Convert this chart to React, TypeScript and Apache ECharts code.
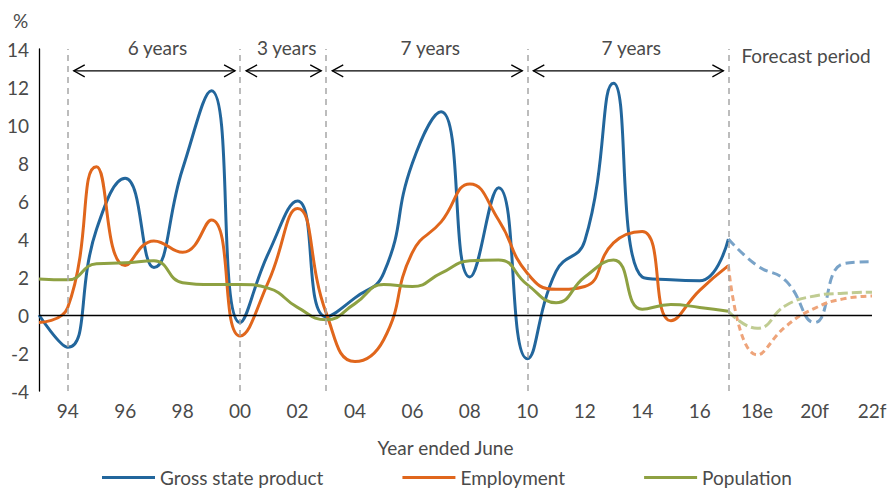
import React, { useEffect, useRef } from "react";
import * as echarts from "echarts";

// ---- data ----
const YEARS = [1993, 1994, 1995, 1996, 1997, 1998, 1999, 2000, 2001, 2002, 2003, 2004, 2005, 2006, 2007, 2008, 2009, 2010, 2011, 2012, 2013, 2014, 2015, 2016, 2017, 2018, 2019, 2020, 2021, 2022];
const ACTUAL_YEARS = [1993, 1994, 1995, 1996, 1997, 1998, 1999, 2000, 2001, 2002, 2003, 2004, 2005, 2006, 2007, 2008, 2009, 2010, 2011, 2012, 2013, 2014, 2015, 2016, 2017];
const FORECAST_YEARS = [2017, 2018, 2019, 2020, 2021, 2022];

const GSP_ACTUAL = [0.0, -1.7, 4.5, 7.2, 2.5, 7.7, 11.8, -0.4, 3.3, 6.0, -0.1, 0.9, 2.2, 8.0, 10.7, 2.0, 6.7, -2.3, 2.3, 3.9, 12.2, 2.0, 1.85, 1.8, 4.0];
const GSP_FORECAST = [4.0, 2.6, 1.8, -0.4, 2.7, 2.8];

const EMP_ACTUAL = [-0.4, 0.4, 7.8, 2.6, 3.9, 3.3, 5.0, -1.1, 1.8, 5.6, 0.1, -2.45, -1.3, 3.3, 4.9, 6.9, 5.0, 2.2, 1.35, 1.5, 3.8, 4.4, -0.3, 1.3, 2.6];
const EMP_FORECAST = [2.6, -2.1, -0.6, 0.35, 0.85, 1.0];

const POP_ACTUAL = [1.9, 1.85, 2.7, 2.75, 2.85, 1.7, 1.6, 1.6, 1.4, 0.4, -0.25, 0.6, 1.6, 1.5, 2.2, 2.85, 2.9, 1.6, 0.65, 2.0, 2.9, 0.3, 0.55, 0.4, 0.2];
const POP_FORECAST = [0.2, -0.7, 0.5, 1.0, 1.15, 1.2];

const TICK_YEARS = [1994, 1996, 1998, 2000, 2002, 2004, 2006, 2008, 2010, 2012, 2014, 2016, 2018, 2020, 2022];
const TICK_LABELS = ["94", "96", "98", "00", "02", "04", "06", "08", "10", "12", "14", "16", "18e", "20f", "22f"];

const DIVIDER_YEARS = [1994, 2000, 2003, 2010, 2017];
const SPAN_FROM = [1994, 2000, 2003, 2010, 2017];
const SPAN_TO = [2000, 2003, 2010, 2017, 2022];
const SPAN_LABELS = ["6 years", "3 years", "7 years", "7 years", "Forecast period"];
const SPAN_ARROW = [1, 1, 1, 1, 0];
const ANNOTATION_LEVEL = 12.85;

const NAMES = ["Gross state product", "Employment", "Population"];
const COLORS = ["#22669c", "#e0661c", "#8ea142"];
const LIGHT = ["#79a3c8", "#eea47a", "#c0cc92"];

const FONT = "Lato, 'Noto Sans', sans-serif";
const TEXT_COLOR = "#4a4a4a";
const FS = 19;

const pairs = (xs: number[], ys: number[]) => xs.map((x, i) => [x, ys[i]]);

export default function App() {
  const ref = useRef<HTMLDivElement>(null);

  useEffect(() => {
    if (!ref.current) return;
    const chart = echarts.init(ref.current, null, { renderer: "svg" });

    const actual = [GSP_ACTUAL, EMP_ACTUAL, POP_ACTUAL];
    const forecast = [GSP_FORECAST, EMP_FORECAST, POP_FORECAST];
    const dashes = [[9, 5], [6, 4], [10, 4]];

    const lineSeries: any[] = [];
    NAMES.forEach((name, i) => {
      lineSeries.push({
        name,
        type: "line",
        data: pairs(ACTUAL_YEARS, actual[i]),
        smooth: 0.5,
        showSymbol: false,
        symbol: "none",
        z: 3,
        itemStyle: { color: COLORS[i] },
        lineStyle: { color: COLORS[i], width: 3 },
      });
      lineSeries.push({
        name: name + " (forecast)",
        type: "line",
        data: pairs(FORECAST_YEARS, forecast[i]),
        smooth: 0.5,
        showSymbol: false,
        symbol: "none",
        z: 3,
        itemStyle: { color: LIGHT[i] },
        lineStyle: { color: LIGHT[i], width: 3, type: dashes[i] },
      });
    });

    const option: any = {
      animation: false,
      textStyle: { fontFamily: FONT },
      grid: { left: 39, right: 20, top: 49, bottom: 100, containLabel: false },
      xAxis: {
        type: "value",
        min: YEARS[0],
        max: YEARS[YEARS.length - 1],
        interval: 1,
        axisLine: { show: false },
        axisTick: { show: false },
        splitLine: { show: false },
        axisLabel: {
          color: TEXT_COLOR,
          fontSize: FS,
          fontFamily: FONT,
          margin: 10,
          formatter: (v: number) => {
            const k = TICK_YEARS.indexOf(Math.round(v));
            return k >= 0 && Math.abs(v - Math.round(v)) < 1e-6 ? TICK_LABELS[k] : "";
          },
        },
        name: "Year ended June",
        nameLocation: "middle",
        nameGap: 47,
        nameTextStyle: { color: TEXT_COLOR, fontSize: FS, fontFamily: FONT, padding: [0, 20, 0, 0] },
      },
      yAxis: {
        type: "value",
        min: -4,
        max: 14,
        interval: 2,
        axisLine: { show: true, onZero: false, lineStyle: { color: "#000", width: 1.3 } },
        axisTick: { show: false },
        splitLine: { show: false },
        axisLabel: { color: TEXT_COLOR, fontSize: FS, fontFamily: FONT, margin: 10 },
      },
      legend: {
        data: NAMES,
        top: 468,
        left: 102,
        padding: 0,
        icon: "rect",
        itemWidth: 53,
        itemHeight: 3,
        itemGap: 79,
        textStyle: { color: TEXT_COLOR, fontSize: FS, fontFamily: FONT },
      },
      graphic: [
        {
          type: "text",
          left: 13,
          top: 11,
          style: { text: "%", fontSize: FS, fontFamily: FONT, fill: TEXT_COLOR },
        },
      ],
      series: [
        {
          name: "guides",
          type: "line",
          data: [],
          z: 1,
          silent: true,
          markLine: {
            silent: true,
            symbol: "none",
            animation: false,
            label: { show: false },
            data: [
              ...DIVIDER_YEARS.map((y) => ({
                xAxis: y,
                lineStyle: { color: "#a6a6a6", type: [6, 5], width: 1.5 },
              })),
              { yAxis: 0, lineStyle: { color: "#000", type: "solid", width: 1.3 } },
            ],
          },
        },
        ...lineSeries,
        {
          name: "spans",
          type: "custom",
          coordinateSystem: "cartesian2d",
          silent: true,
          clip: false,
          z: 5,
          encode: { x: [0, 1], y: 2 },
          data: SPAN_FROM.map((f, i) => [f, SPAN_TO[i], ANNOTATION_LEVEL]),
          renderItem: (params: any, api: any) => {
            const i = params.dataIndex;
            const p1 = api.coord([api.value(0), api.value(2)]);
            const p2 = api.coord([api.value(1), api.value(2)]);
            const y = p1[1];
            if (!SPAN_ARROW[i]) {
              return {
                type: "text",
                x: p1[0] + 13,
                y: y - 15,
                style: {
                  text: SPAN_LABELS[i],
                  fill: TEXT_COLOR,
                  fontSize: FS,
                  fontFamily: FONT,
                  align: "left",
                  verticalAlign: "middle",
                },
              };
            }
            const a = p1[0] + 6;
            const b = p2[0] - 5;
            const stroke = { stroke: "#000", lineWidth: 1.3, fill: "none" };
            return {
              type: "group",
              children: [
                { type: "line", shape: { x1: a, y1: y, x2: b, y2: y }, style: { stroke: "#000", lineWidth: 1.3 } },
                { type: "polyline", shape: { points: [[a + 11, y - 6], [a, y], [a + 11, y + 6]] }, style: stroke },
                { type: "polyline", shape: { points: [[b - 11, y - 6], [b, y], [b - 11, y + 6]] }, style: stroke },
                {
                  type: "text",
                  x: (a + b) / 2 + 3,
                  y: y - 23,
                  style: {
                    text: SPAN_LABELS[i],
                    fill: TEXT_COLOR,
                    fontSize: FS,
                    fontFamily: FONT,
                    align: "center",
                    verticalAlign: "middle",
                  },
                },
              ],
            };
          },
        },
      ],
    };

    chart.setOption(option);
    return () => chart.dispose();
  }, []);

  return (
    <div
      ref={ref}
      style={{ position: "fixed", left: 0, top: 0, width: 892, height: 491, background: "#fff" }}
    />
  );
}
